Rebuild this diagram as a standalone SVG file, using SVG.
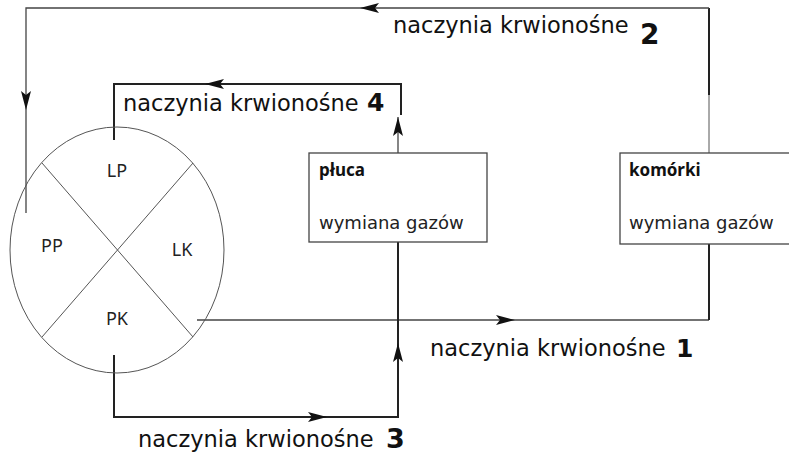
<svg xmlns="http://www.w3.org/2000/svg" width="789" height="454" viewBox="0 0 789 454">
<style>
.bg{fill:#fff}
.ln{fill:none;stroke:#222;stroke-width:2}
.lt{fill:none;stroke:#444;stroke-width:1.3}
.lg{fill:none;stroke:#555;stroke-width:1}
.ah{fill:#111}
.lbl{font-family:"DejaVu Sans",Verdana,sans-serif;font-size:22.5px;fill:#111}
.num{font-family:"DejaVu Sans",Verdana,sans-serif;font-weight:bold;fill:#111}
.hd{font-family:"Noto Sans","DejaVu Sans",sans-serif;font-weight:bold;font-size:17px;fill:#111}
.tx{font-family:"DejaVu Sans",Verdana,sans-serif;font-size:18px;fill:#222}
.sg{font-family:"Noto Sans","DejaVu Sans",sans-serif;font-size:18px;fill:#222}
.box{fill:#fff;stroke:#444;stroke-width:1.3}
</style>
<defs>
<path id="ah" d="M0,0 L-19,-5 L-15,0 L-19,5 Z"/>
</defs>
<rect class="bg" width="789" height="454"/>
<g id="connectors">
<path class="lg" d="M709,95 V153"/>
<path class="ln" d="M709,95 V8"/>
<path class="lt" d="M709,8 H26 V213"/>
<use href="#ah" class="ah" transform="translate(360,8) rotate(180)"/>
<use href="#ah" class="ah" transform="translate(26,110) rotate(90)"/>
<path class="ln" d="M114,140 V84 H401 V115"/>
<use href="#ah" class="ah" transform="translate(205,84) rotate(180)"/>
<path class="lt" d="M398,153 V117"/>
<use href="#ah" class="ah" transform="translate(398,117) rotate(-90)"/>
<path class="lt" d="M197,320 H709"/>
<path class="ln" d="M709,320 V244"/>
<use href="#ah" class="ah" transform="translate(515,320)"/>
<path class="ln" d="M114,355 V417 H398 V242"/>
<use href="#ah" class="ah" transform="translate(327,417)"/>
<use href="#ah" class="ah" transform="translate(398,343) rotate(-90)"/>
</g>
<g id="heart">
<ellipse class="lg" cx="117" cy="250" rx="107" ry="123"/>
<path class="lg" d="M42,163 L193,337 M193,163 L42,337"/>
<text class="sg" x="117" y="177" text-anchor="middle">LP</text>
<text class="sg" x="52" y="252" text-anchor="middle">PP</text>
<text class="sg" x="182" y="256" text-anchor="middle">LK</text>
<text class="sg" x="117" y="325" text-anchor="middle">PK</text>
</g>
<g id="pluca">
<rect class="box" x="309" y="153" width="178" height="89"/>
<text class="hd" x="319" y="176">płuca</text>
<text class="tx" x="319" y="229">wymiana gazów</text>
</g>
<g id="komorki">
<rect class="box" x="620" y="153" width="180" height="91"/>
<text class="hd" x="629" y="176">komórki</text>
<text class="tx" x="629" y="229">wymiana gazów</text>
</g>
<g id="label2">
<text class="lbl" x="393" y="33">naczynia krwionośne</text>
<text class="num" x="640" y="44" font-size="28">2</text>
</g>
<g id="label4">
<text class="lbl" x="123" y="111">naczynia krwionośne</text>
<text class="num" x="367" y="111" font-size="25">4</text>
</g>
<g id="label1">
<text class="lbl" x="430" y="356">naczynia krwionośne</text>
<text class="num" x="676" y="357" font-size="25">1</text>
</g>
<g id="label3">
<text class="lbl" x="138" y="447">naczynia krwionośne</text>
<text class="num" x="386" y="448" font-size="27">3</text>
</g>
</svg>
